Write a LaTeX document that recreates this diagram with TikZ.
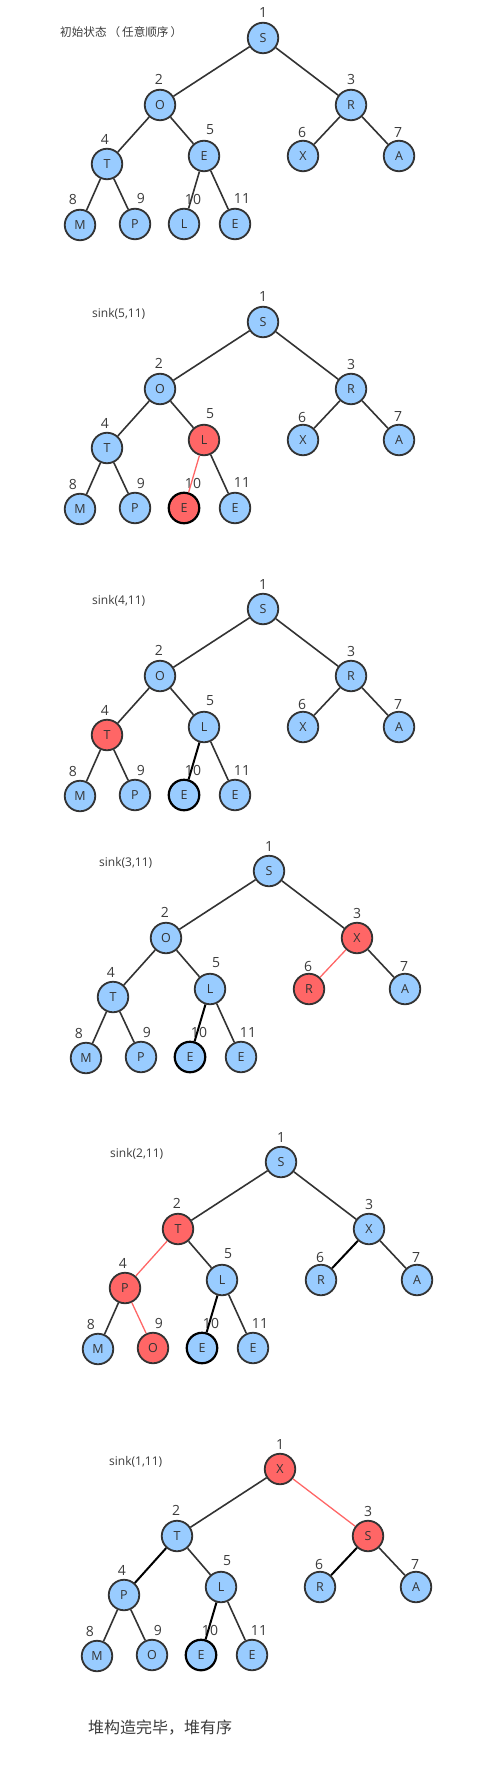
\documentclass[tikz,border=0pt]{standalone}
\usepackage{fontspec}
\setmainfont{Open Sans}
\newfontfamily\cjk{Noto Sans CJK SC}
\usepackage{tikz}

\definecolor{nodeblue}{HTML}{99CCFF}
\definecolor{nodered}{HTML}{FF6666}
\definecolor{linegray}{HTML}{333333}
\definecolor{textgray}{HTML}{3C3C3C}

\tikzset{
	heapnode/.style={circle, draw=linegray, fill=nodeblue, line width=1.8pt, minimum size=30.5pt, inner sep=0pt, text=linegray, font=\fontsize{12.5}{14}\selectfont},
	hotnode/.style={heapnode, fill=nodered},
	fixnode/.style={heapnode, draw=black, line width=2.2pt},
	hotfixnode/.style={fixnode, fill=nodered},
	heapedge/.style={draw=linegray, line width=1.6pt},
	hotedge/.style={draw=nodered, line width=1.3pt},
	fixedge/.style={draw=black, line width=2pt},
	idxlabel/.style={inner sep=0pt, text=textgray, font=\fontsize{14}{16}\selectfont},
	caption/.style={anchor=west, inner sep=0pt, text=textgray, font=\fontsize{12}{14}\selectfont},
	cjkcaption/.style={caption, font=\cjk\fontsize{11.6}{13}\selectfont},
}

\begin{document}
\begin{tikzpicture}[x=1pt, y=-1pt]
	\useasboundingbox (0,0) rectangle (492,1776);

	% Slots relative to the root: index/x/y/label dx/label dy
	\def\heapslots{1/0/0/0/-25, 2/-103/67/-1/-26, 3/88/67/0/-25, 4/-156/126/-2/-25, 5/-59/118/6/-26, 6/40/118/-1/-23, 7/136/118/-1/-23, 8/-183/187/-7/-25, 9/-128/186/6/-25, 10/-79/186/9/-25, 11/-28/186/7/-25}
	\def\heapplaces{
		\foreach \i/\sx/\sy/\lx/\ly in \heapslots {
			\coordinate (p\i) at (\sx,\sy);
			\coordinate (q\i) at (\sx+\lx,\sy+\ly);
		}
	}
	% Nodes of one tree, key/style in heap order
	\def\heapnodes#1#2{
		\foreach \key/\sty [count=\i] in {#2} {
			\node[\sty] (#1\i) at (p\i) {\key};
			\node[idxlabel] (#1l\i) at (q\i) {\i};
		}
	}
	% Edges of one tree, style of the edge into child 2..11
	\def\heapedges#1#2{
		\foreach \sty [count=\j from 2] in {#2} {
			\pgfmathtruncatemacro\up{\j/2}
			\draw[\sty] (#1\up) -- (#1\j);
		}
	}

	% Initial state
	\node[cjkcaption] (title1) at (60,32) {初始状态\hspace{2pt}（\hspace{2pt}任意顺序\hspace{2pt}）};
	\begin{scope}[shift={(263,38)}]
		\heapplaces
		\heapnodes{a}{S/heapnode, O/heapnode, R/heapnode, T/heapnode, E/heapnode, X/heapnode, A/heapnode, M/heapnode, P/heapnode, L/heapnode, E/heapnode}
		\heapedges{a}{heapedge, heapedge, heapedge, heapedge, heapedge, heapedge, heapedge, heapedge, heapedge, heapedge}
	\end{scope}

	% sink(5,11)
	\node[caption] (title2) at (92,314) {sink(5,11)};
	\begin{scope}[shift={(263,322)}]
		\heapplaces
		\heapnodes{b}{S/heapnode, O/heapnode, R/heapnode, T/heapnode, L/hotnode, X/heapnode, A/heapnode, M/heapnode, P/heapnode, E/hotfixnode, E/heapnode}
		\heapedges{b}{heapedge, heapedge, heapedge, heapedge, heapedge, heapedge, heapedge, heapedge, hotedge, heapedge}
	\end{scope}

	% sink(4,11)
	\node[caption] (title3) at (92,601) {sink(4,11)};
	\begin{scope}[shift={(263,609)}]
		\heapplaces
		\heapnodes{c}{S/heapnode, O/heapnode, R/heapnode, T/hotnode, L/heapnode, X/heapnode, A/heapnode, M/heapnode, P/heapnode, E/fixnode, E/heapnode}
		\heapedges{c}{heapedge, heapedge, heapedge, heapedge, heapedge, heapedge, heapedge, heapedge, fixedge, heapedge}
	\end{scope}

	% sink(3,11)
	\node[caption] (title4) at (99,863) {sink(3,11)};
	\begin{scope}[shift={(269,871)}]
		\heapplaces
		\heapnodes{d}{S/heapnode, O/heapnode, X/hotnode, T/heapnode, L/heapnode, R/hotnode, A/heapnode, M/heapnode, P/heapnode, E/fixnode, E/heapnode}
		\heapedges{d}{heapedge, heapedge, heapedge, heapedge, hotedge, heapedge, heapedge, heapedge, fixedge, heapedge}
	\end{scope}

	% sink(2,11)
	\node[caption] (title5) at (110,1154) {sink(2,11)};
	\begin{scope}[shift={(281,1162)}]
		\heapplaces
		\heapnodes{e}{S/heapnode, T/hotnode, X/heapnode, P/hotnode, L/heapnode, R/heapnode, A/heapnode, M/heapnode, O/hotnode, E/fixnode, E/heapnode}
		\heapedges{e}{heapedge, heapedge, hotedge, heapedge, fixedge, heapedge, heapedge, hotedge, fixedge, heapedge}
	\end{scope}

	% sink(1,11)
	\node[caption] (title6) at (109,1462) {sink(1,11)};
	\begin{scope}[shift={(280,1469)}]
		\heapplaces
		\heapnodes{f}{X/hotnode, T/heapnode, S/hotnode, P/heapnode, L/heapnode, R/heapnode, A/heapnode, M/heapnode, O/heapnode, E/fixnode, E/heapnode}
		\heapedges{f}{heapedge, hotedge, fixedge, heapedge, fixedge, heapedge, heapedge, heapedge, fixedge, heapedge}
	\end{scope}

	% Final remark
	\node[caption, font=\cjk\fontsize{16}{18}\selectfont] (done) at (88,1728) {堆构造完毕，堆有序};
\end{tikzpicture}
\end{document}
